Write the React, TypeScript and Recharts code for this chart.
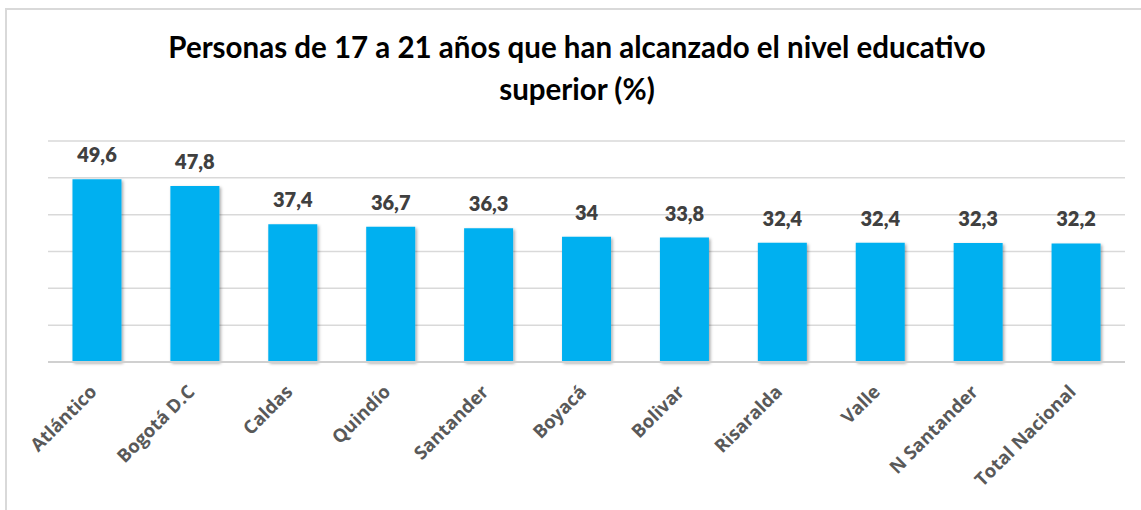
import React from "react";
import { BarChart, Bar, XAxis, YAxis, CartesianGrid, LabelList } from "recharts";

const categories = [
  "Atlántico",
  "Bogotá D.C",
  "Caldas",
  "Quindío",
  "Santander",
  "Boyacá",
  "Bolivar",
  "Risaralda",
  "Valle",
  "N Santander",
  "Total Nacional",
];
const values = [49.6, 47.8, 37.4, 36.7, 36.3, 34, 33.8, 32.4, 32.4, 32.3, 32.2];
const yTicks = [0, 10, 20, 30, 40, 50, 60];
const titleLines = ["Personas de 17 a 21 años que han alcanzado el nivel educativo", "superior (%)"];

const data = categories.map((c, i) => ({ name: c, value: values[i] }));

const fmt = (v: any) => String(v).replace(".", ",");

const CustomTick = (props: any) => {
  const { x, y, payload } = props;
  const ax = x + 1;
  const ay = y + 23;
  return (
    <text
      x={ax}
      y={ay}
      transform={`rotate(-45, ${ax}, ${ay})`}
      textAnchor="end"
      fill="#595959"
      fontFamily="Open Sans"
      fontWeight={700}
      fontSize={18.5}
    >
      {payload.value}
    </text>
  );
};

export default function App() {
  return (
    <div
      style={{
        position: "absolute",
        left: 0,
        top: 0,
        width: 1141,
        height: 510,
        overflow: "hidden",
        background: "#ffffff",
      }}
    >
      <svg width={0} height={0} style={{ position: "absolute" }}>
        <defs>
          <filter id="barShadow" x="-20%" y="-10%" width="150%" height="120%">
            <feDropShadow dx="1.5" dy="1.5" stdDeviation="1.5" floodColor="#000" floodOpacity="0.35" />
          </filter>
        </defs>
      </svg>
      <div
        style={{
          position: "absolute",
          left: 5,
          top: 8,
          width: 1300,
          height: 700,
          border: "2px solid #d9d9d9",
          boxSizing: "border-box",
        }}
      />
      {titleLines.map((t, i) => (
        <div
          key={i}
          style={{
            position: "absolute",
            left: 0,
            width: 1154,
            top: i === 0 ? 29 : 71,
            textAlign: "center",
            fontFamily: "Lato, sans-serif",
            fontWeight: 700,
            fontSize: 29.5,
            lineHeight: "36px",
            color: "#000000",
            whiteSpace: "nowrap",
          }}
        >
          {t}
        </div>
      ))}
      <div style={{ position: "absolute", left: 0, top: 0 }}>
        <BarChart
          width={1141}
          height={510}
          data={data}
          margin={{ top: 141, right: 16, bottom: 8, left: 48 }}
          barCategoryGap="25%"
        >
          <CartesianGrid vertical={false} stroke="#d9d9d9" strokeWidth={1.5} />
          <YAxis hide domain={[0, 60]} ticks={yTicks} />
          <XAxis
            dataKey="name"
            interval={0}
            height={140}
            tickLine={false}
            axisLine={{ stroke: "#d0d0d0", strokeWidth: 2 }}
            tick={<CustomTick />}
          />
          <Bar dataKey="value" fill="#00B0F0" isAnimationActive={false} style={{ filter: "url(#barShadow)" }}>
            <LabelList
              dataKey="value"
              position="top"
              offset={17}
              formatter={fmt}
              fill="#404040"
              fontFamily="Lato, sans-serif"
              fontWeight={800}
              fontSize={20}
            />
          </Bar>
        </BarChart>
      </div>
    </div>
  );
}
